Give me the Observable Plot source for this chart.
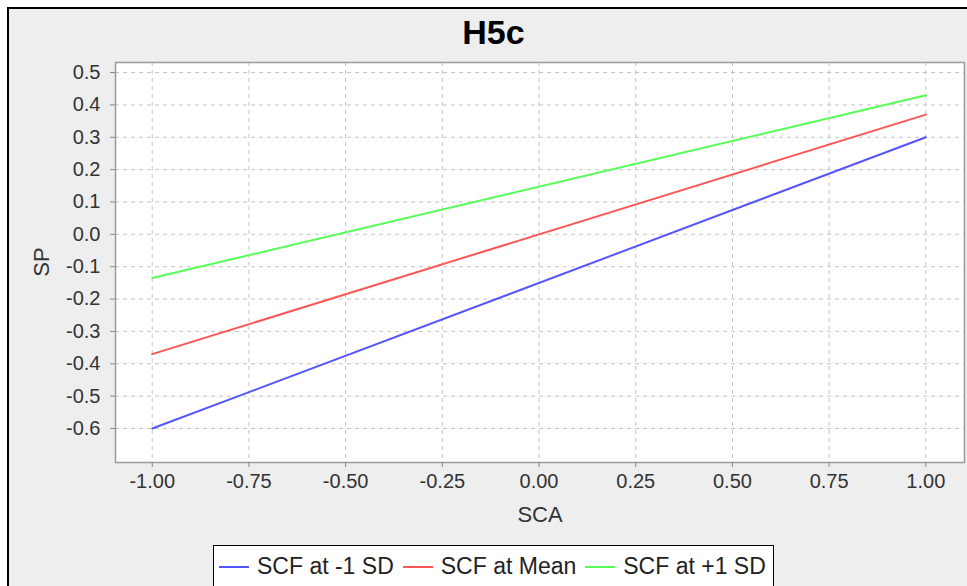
<!DOCTYPE html>
<html>
<head>
<meta charset="utf-8">
<script src="https://cdn.jsdelivr.net/npm/d3@7"></script>
<script src="https://cdn.jsdelivr.net/npm/@observablehq/plot@0.6"></script>
<style>
  html, body { margin: 0; padding: 0; background: #fff; }
  #root { position: relative; width: 967px; height: 586px; overflow: hidden; font-family: "Liberation Sans", Arial, sans-serif; }
  #panel { position: absolute; left: 7px; top: 7px; width: 1000px; height: 620px; border: 2px solid #000; background: #eeeeee; box-sizing: border-box; }
  #chart { position: absolute; left: 0; top: 0; }
  .lbl { position: absolute; line-height: 1; white-space: nowrap; color: #222; }
  #title { left: 0; width: 987px; text-align: center; top: 14.5px; font-size: 34px; font-weight: bold; color: #000; }
  #xlabel { left: 540px; top: 503.5px; font-size: 22px; transform: translateX(-50%); color: #333; }
  #ylabel { left: 42px; top: 262px; font-size: 22px; transform: translate(-50%, -50%) rotate(-90deg); color: #333; }
  #legend { position: absolute; left: 213px; top: 545px; width: 561px; height: 60px; border: 1.5px solid #000; background: #fff; box-sizing: border-box; display: flex; flex-wrap: nowrap; align-items: flex-start; padding-left: 5px; padding-top: 9px; white-space: nowrap; overflow: visible; }
  .item { display: flex; flex: 0 0 auto; align-items: center; font-size: 23px; line-height: 1; color: #222; margin-right: 9px; white-space: nowrap; }
  .sw { flex: 0 0 auto; width: 30px; height: 2px; margin-right: 8px; }
</style>
</head>
<body>
<div id="root">
  <div id="panel"></div>
  <div id="chart"></div>
  <div class="lbl" id="title">H5c</div>
  <div class="lbl" id="xlabel">SCA</div>
  <div class="lbl" id="ylabel">SP</div>
  <div id="legend"></div>
</div>
<script>
// ---- data ----
const sca = [-1, 1];
const spLow = [-0.60, 0.30];    // SCF at -1 SD
const spMean = [-0.37, 0.37];   // SCF at Mean
const spHigh = [-0.135, 0.43];  // SCF at +1 SD
const seriesNames = ["SCF at -1 SD", "SCF at Mean", "SCF at +1 SD"];
const seriesColors = ["#5555ff", "#ff5555", "#55ff55"];
const xTicks = [-1, -0.75, -0.5, -0.25, 0, 0.25, 0.5, 0.75, 1];
const yTicks = [-0.6, -0.5, -0.4, -0.3, -0.2, -0.1, 0, 0.1, 0.2, 0.3, 0.4, 0.5];

const seriesValues = [spLow, spMean, spHigh];
const rows = [];
seriesNames.forEach((name, i) => {
  sca.forEach((x, j) => rows.push({series: name, x, y: seriesValues[i][j]}));
});

const chart = Plot.plot({
  width: 967,
  height: 586,
  marginLeft: 115,
  marginRight: 3,
  marginTop: 62,
  marginBottom: 124,
  style: {background: "transparent", fontFamily: "'Liberation Sans', Arial, sans-serif"},
  x: {domain: [-1.095, 1.1], axis: null},
  y: {domain: [-0.705, 0.531], axis: null},
  color: {domain: seriesNames, range: seriesColors},
  marks: [
    Plot.frame({fill: "white", stroke: null}),
    Plot.ruleX(xTicks, {x: d => d, stroke: "#c4c4c4", strokeWidth: 1, strokeDasharray: "4,4"}),
    Plot.ruleY(yTicks, {y: d => d, stroke: "#c4c4c4", strokeWidth: 1, strokeDasharray: "4,4"}),
    Plot.line(rows, {x: "x", y: "y", z: "series", stroke: "series", strokeWidth: 2}),
    Plot.frame({stroke: "#9a9a9a", strokeWidth: 1.5}),
    Plot.axisX(xTicks, {tickSize: 5, tickPadding: 6, tickFormat: d => d.toFixed(2), fontSize: 20, stroke: "#888", fill: "#333", label: null}),
    Plot.axisY(yTicks, {tickSize: 5, tickPadding: 10, tickFormat: d => d.toFixed(1), fontSize: 20, stroke: "#888", fill: "#333", label: null})
  ]
});
document.getElementById("chart").appendChild(chart);

// legend built from the series arrays
const legend = document.getElementById("legend");
seriesNames.forEach((name, i) => {
  const item = document.createElement("div");
  item.className = "item";
  const sw = document.createElement("span");
  sw.className = "sw";
  sw.style.background = seriesColors[i];
  const t = document.createElement("span");
  t.textContent = name;
  item.appendChild(sw);
  item.appendChild(t);
  legend.appendChild(item);
});
</script>
</body>
</html>
